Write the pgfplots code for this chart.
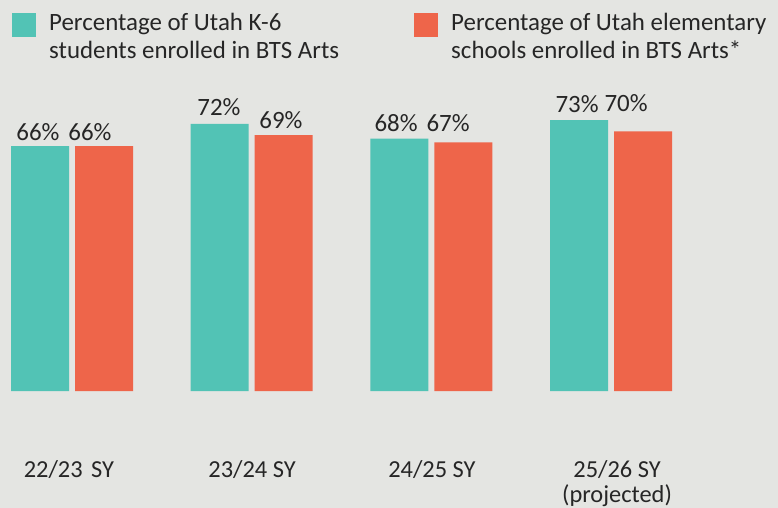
\documentclass[border=0pt]{standalone}
\usepackage{pgfplots}
\usepackage{pgfplotstable}
\pgfplotsset{compat=1.18}
\usepackage{fontspec}
\setmainfont{Carlito}
\definecolor{bg}{RGB}{228,229,226}
\definecolor{tealb}{RGB}{82,195,181}
\definecolor{coral}{RGB}{238,101,74}
\definecolor{txt}{RGB}{38,38,38}
\pgfplotstableread{
x y dx dy
0 66 -2 6
1 72 -0.7 8
2 68 -3.3 7.7
3 73 -2 8
}\tealdata
\pgfplotstableread{
x y dx dy
0 66 -14 6.1
1 69 -2.7 7
2 67 -15.3 11.4
3 70 -17 19.3
}\coraldata
\begin{document}
\begin{tikzpicture}
\fill[bg] (0,0) rectangle (778bp,508bp);
\begin{axis}[
  at={(0bp,117bp)}, anchor=south west,
  scale only axis, width=778bp, height=391bp,
  xmin=-0.4007, xmax=3.9288, ymin=0, ymax=105.39,
  ybar=6bp, bar width=58bp,
  axis line style={draw=none}, major tick length=0pt,
  ytick=\empty,
  xtick={-0.017,1.002,2.003,3.033},
  xticklabels={{22/23\hspace{3bp} SY},{23/24 SY},{24/25 SY},{\begin{tabular}[t]{@{}c@{}}25/26 SY\\(projected)\end{tabular}}},
  xticklabel style={anchor=base, yshift=-86bp, inner sep=0pt, font=\fontsize{24.5}{24.5}\selectfont, text=txt},
  clip=false,
  /pgf/number format/assume math mode=true,
  visualization depends on={\thisrow{dx}\as\dx},
  visualization depends on={\thisrow{dy}\as\dy},
  nodes near coords={\pgfmathprintnumber{\pgfplotspointmeta}\%},
  nodes near coords style={font=\fontsize{25}{30}\selectfont, text=txt, anchor=base, inner sep=0pt, xshift=\dx bp, yshift=\dy bp},
  legend image code/.code={\fill[#1] (0bp,-6bp) rectangle (24bp,18bp); \path (37bp,0bp);},
  legend style={at={(0.01542,0.9719)}, anchor=north west, draw=none, fill=none, inner sep=0pt,
    legend columns=2, cells={anchor=base west},
    nodes={inner sep=0pt, font=\fontsize{25}{28}\selectfont, text=txt},
    /tikz/every even column/.append style={column sep=75bp}},
]
\addplot[fill=tealb, draw=none] table[x=x, y=y] {\tealdata};
\addlegendentry{\begin{tabular}[t]{@{}l@{}}Percentage of Utah K-6\\students enrolled in BTS Arts\end{tabular}}
\addplot[fill=coral, draw=none] table[x=x, y=y] {\coraldata};
\addlegendentry{\begin{tabular}[t]{@{}l@{}}Percentage of Utah elementary\\schools enrolled in BTS Arts*\end{tabular}}
\end{axis}
\pgfresetboundingbox
\path (0,0) rectangle (778bp,508bp);
\end{tikzpicture}
\end{document}
